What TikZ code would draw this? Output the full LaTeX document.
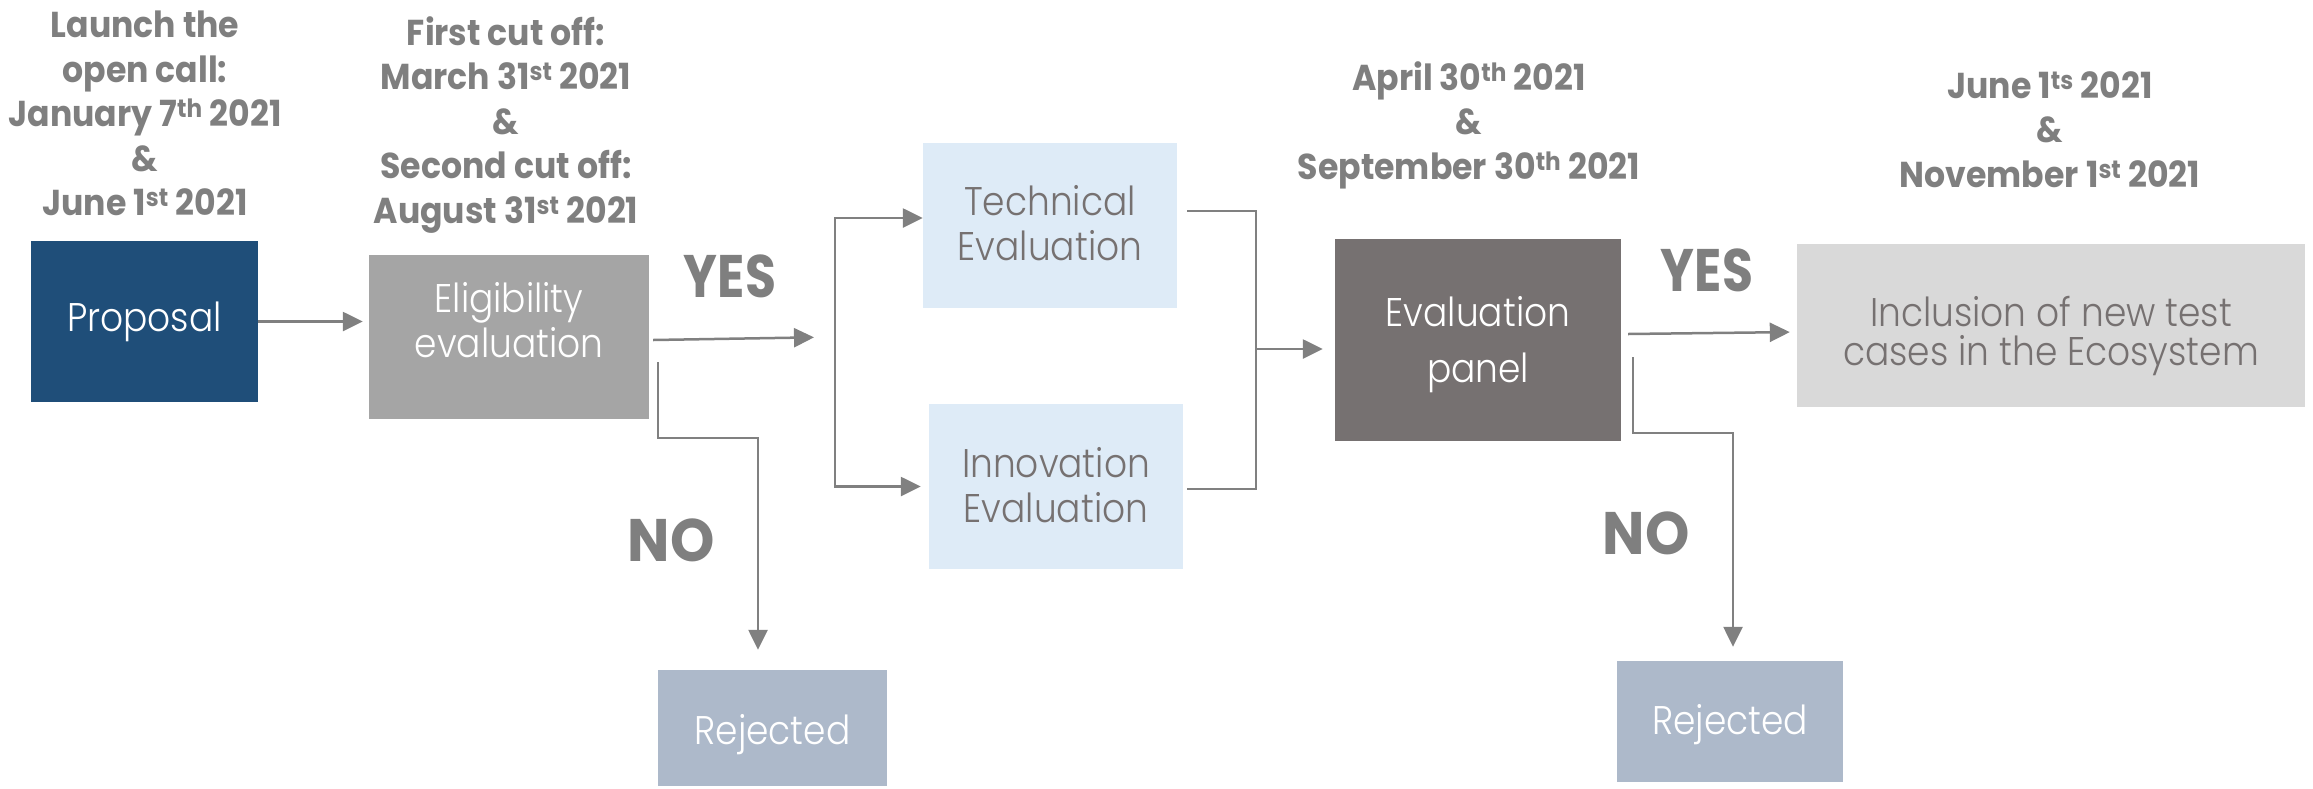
\documentclass[tikz,border=0pt]{standalone}
\usepackage{fontspec}
\setmainfont{Poppins}
\newfontfamily\lightfont{Poppins Light}[FakeStretch=0.9]
\newfontfamily\ttlfont{Poppins}[FakeStretch=0.92]
\usetikzlibrary{arrows.meta,calc}
\definecolor{tgrey}{HTML}{7F7F7F}
\definecolor{lgrey}{HTML}{808080}
\definecolor{cprop}{HTML}{1F4E79}
\definecolor{celig}{HTML}{A5A5A5}
\definecolor{cevl}{HTML}{DEEBF7}
\definecolor{cpanel}{HTML}{767171}
\definecolor{cincl}{HTML}{D9D9D9}
\definecolor{crej}{HTML}{ADB9CA}
\definecolor{btext}{HTML}{767171}
\begin{document}
\begin{tikzpicture}[x=1pt,y=-1pt,
  box/.style={rectangle, inner sep=0pt},
  boxlbl/.style={inner sep=0pt, align=center, font=\lightfont\fontsize{40}{45}\selectfont},
  ttl/.style={text=tgrey, font=\ttlfont\bfseries\fontsize{36}{44.5}\selectfont, align=center, anchor=north, inner sep=0pt},
  yn/.style={text=tgrey, font=\bfseries\fontsize{60}{60}\selectfont, inner sep=0pt},
  ln/.style={draw=lgrey, line width=2.5pt},
  arr/.style={ln, -{Triangle[length=20pt,width=19pt]}}]
\useasboundingbox (0,0) rectangle (2313,788);

% boxes
\node[box, fill=cprop, minimum width=227pt, minimum height=161pt,
  label={[boxlbl, text=white]center:Proposal}] (prop) at (144.5,321.5) {};
\node[box, fill=celig, minimum width=280pt, minimum height=164pt,
  label={[boxlbl, text=white, yshift=17pt]center:{Eligibility\\evaluation}}] (elig) at (509,337) {};
\node[box, fill=cevl, minimum width=254pt, minimum height=165pt,
  label={[boxlbl, text=btext, yshift=2pt]center:{Technical\\Evaluation}}] (tech) at (1050,225.5) {};
\node[box, fill=cevl, minimum width=254pt, minimum height=165pt,
  label={[boxlbl, text=btext, yshift=1pt]center:{Innovation\\Evaluation}}] (innov) at (1056,486.5) {};
\node[box, fill=cpanel, minimum width=286pt, minimum height=202pt,
  label={[boxlbl, text=white, font=\lightfont\fontsize{40}{56}\selectfont, yshift=-5pt]center:{Evaluation\\panel}}] (panel) at (1478,340) {};
\node[box, fill=cincl, minimum width=508pt, minimum height=163pt,
  label={[boxlbl, text=btext, font=\lightfont\fontsize{40}{39}\selectfont, yshift=-10pt]center:{Inclusion of new test\\cases in the Ecosystem}}] (incl) at (2051,325.5) {};
\node[box, fill=crej, minimum width=229pt, minimum height=116pt,
  label={[boxlbl, text=white, yshift=-7pt]center:Rejected}] (rej1) at (772.5,728) {};
\node[box, fill=crej, minimum width=226pt, minimum height=121pt,
  label={[boxlbl, text=white, yshift=-3pt]center:Rejected}] (rej2) at (1730,721.5) {};

% titles
\node[ttl] (t1) at (145,11) {Launch the\\open call:\\January 7\textsuperscript{th} 2021\\\&\\June 1\textsuperscript{st} 2021};
\node[ttl] (t2) at (506,16) {First cut off:\\March 31\textsuperscript{st} 2021\\\&\\Second cut off:\\August 31\textsuperscript{st} 2021};
\node[ttl] (t3) at (1469,61) {April 30\textsuperscript{th} 2021\\\&\\September 30\textsuperscript{th} 2021};
\node[ttl] (t4) at (2050,71) {June 1\textsuperscript{ts} 2021\\\&\\November 1\textsuperscript{st} 2021};

% yes / no
\node[yn] (yes1) at (730,276) {\scalebox{0.84}[1]{YES}};
\node[yn] (no1) at (671,540) {\scalebox{0.94}[1]{NO}};
\node[yn] (yes2) at (1707,270) {\scalebox{0.84}[1]{YES}};
\node[yn] (no2) at (1646,533) {\scalebox{0.94}[1]{NO}};

% connectors
\coordinate (sp) at (835,337);
\coordinate (mg) at (1256,349);
\coordinate (nl) at (758,438);
\coordinate (nr) at (1733,433);
\draw[arr, shorten >=6pt] (prop.east) -- (prop.east -| elig.west);
\draw[arr, shorten >=21pt] ($(elig.east)+(4,3)$) -- (sp);
\draw[arr] (sp) |- ($(tech.west)+(0,-7.5)$);
\draw[arr, shorten >=8pt] (sp) |- (innov.west);
\draw[ln] ($(tech.east)+(10,-14.5)$) -| (mg);
\draw[ln] ($(innov.east)+(4,2.5)$) -| (mg);
\draw[arr, shorten >=12pt] (mg) -- (mg -| panel.west);
\draw[arr, shorten >=7pt] ($(panel.east)+(7,-6)$) -- ($(incl.west)+(0,6.5)$);
\draw[arr, shorten >=20pt] ($(elig.east)+(9,25)$) |- (nl) -- (nl |- rej1.north);
\draw[arr, shorten >=14pt] ($(panel.east)+(12,17)$) |- (nr) -- (nr |- rej2.north);
\end{tikzpicture}
\end{document}
